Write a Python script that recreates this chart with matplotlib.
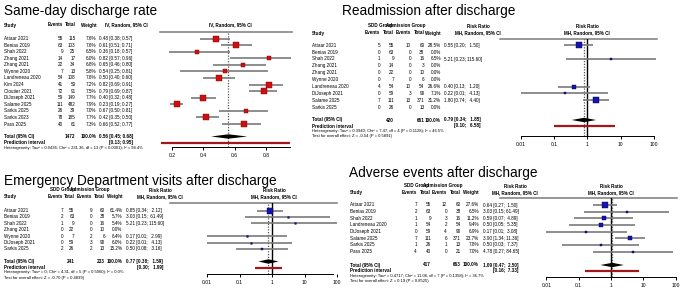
# Four forest plots: same-day discharge vs admission
# Text columns are laid out in pixel units on a blank canvas axes,
# the markers go on small forest axes with real (log) scales.

import numpy as np
import matplotlib.pyplot as plt
from matplotlib.ticker import NullLocator

plt.rcParams['font.family'] = ['Liberation Sans', 'DejaVu Sans']

# %%
# Same-day discharge rate (single proportions, IV random effects)
sd_title = 'Same-day discharge rate'
sd_study = ['Attaar 2021', 'Benias 2019', 'Shah 2022', 'Zhang 2021', 'Zhang 2021',
            'Wynne 2020', 'Landreneau 2020', 'Kim 2024', 'Cloutier 2021',
            'DiJoseph 2021', 'Salame 2025', 'Sarkis 2025', 'Sarkis 2023', 'Pass 2025']
sd_events = [55, 63, 9, 14, 22, 7, 54, 41, 72, 59, 111, 26, 78, 40]
sd_total = [115, 103, 25, 17, 34, 13, 108, 50, 91, 149, 482, 39, 185, 61]
sd_weight = [7.6, 7.6, 6.5, 6.0, 6.8, 5.8, 7.6, 7.2, 7.5, 7.7, 7.9, 7.0, 7.7, 7.3]
sd_est = [0.48, 0.61, 0.36, 0.82, 0.65, 0.54, 0.50, 0.82, 0.79, 0.40, 0.23, 0.67, 0.42, 0.66]
sd_lo = [0.38, 0.51, 0.18, 0.57, 0.46, 0.25, 0.40, 0.69, 0.69, 0.32, 0.19, 0.50, 0.35, 0.52]
sd_hi = [0.57, 0.71, 0.57, 0.96, 0.80, 0.81, 0.60, 0.91, 0.87, 0.48, 0.27, 0.81, 0.50, 0.77]
sd_n_all = 1472
sd_pooled = [0.56, 0.45, 0.68]
sd_pred = [0.13, 0.95]
sd_ticks = [0.2, 0.4, 0.6, 0.8]
sd_het = 'Heterogeneity: Tau² = 0.0436; Chi² = 231.36, df = 13 (P < 0.0001); I² = 94.4%'

# Readmission after discharge (risk ratio, MH random effects)
ra_title = 'Readmission after discharge'
ra_study = ['Attaar 2021', 'Benias 2019', 'Shah 2022', 'Zhang 2021', 'Zhang 2021',
            'Wynne 2020', 'Landreneau 2020', 'DiJoseph 2021', 'Salame 2025', 'Sarkis 2025']
ra_ev_sdd = [5, 0, 1, 0, 0, 0, 4, 0, 7, 0]
ra_n_sdd = [55, 63, 9, 14, 22, 7, 54, 59, 111, 26]
ra_ev_adm = [10, 0, 0, 0, 0, 0, 10, 3, 13, 0]
ra_n_adm = [60, 38, 16, 3, 10, 6, 54, 90, 371, 13]
ra_weight = [28.5, 0.0, 6.5, 0.0, 0.0, 0.0, 26.6, 7.1, 31.2, 0.0]
ra_rr = [0.55, np.nan, 5.21, np.nan, np.nan, np.nan, 0.40, 0.22, 1.80, np.nan]
ra_lo = [0.20, np.nan, 0.23, np.nan, np.nan, np.nan, 0.13, 0.01, 0.74, np.nan]
ra_hi = [1.50, np.nan, 115.60, np.nan, np.nan, np.nan, 1.20, 4.13, 4.40, np.nan]
ra_tot = [420, 661]
ra_pooled = [0.79, 0.34, 1.85]
ra_pred = [0.10, 6.58]
ra_het = 'Heterogeneity: Tau² = 0.3940; Chi² = 7.47, df = 4 (P = 0.1128); I² = 46.5%'
ra_test = 'Test for overall effect: Z = -0.54 (P = 0.5891)'

# Emergency Department visits after discharge
ed_title = 'Emergency Department visits after discharge'
ed_study = ['Attaar 2021', 'Benias 2019', 'Shah 2022', 'Zhang 2021', 'Wynne 2020',
            'DiJoseph 2021', 'Sarkis 2025']
ed_ev_sdd = [7, 2, 1, 0, 0, 0, 2]
ed_n_sdd = [55, 63, 9, 22, 7, 59, 26]
ed_ev_adm = [9, 0, 0, 0, 2, 3, 2]
ed_n_adm = [60, 38, 16, 10, 6, 90, 13]
ed_weight = [61.4, 5.7, 5.4, 0.0, 6.4, 6.0, 15.2]
ed_rr = [0.85, 3.03, 5.21, np.nan, 0.17, 0.22, 0.50]
ed_lo = [0.34, 0.15, 0.23, np.nan, 0.01, 0.01, 0.08]
ed_hi = [2.12, 61.49, 115.60, np.nan, 2.99, 4.13, 3.16]
ed_tot = [241, 233]
ed_pooled = [0.77, 0.38, 1.59]
ed_pred = [0.30, 1.99]
ed_het = 'Heterogeneity: Tau² = 0; Chi² = 4.31, df = 5 (P = 0.5060); I² = 0.0%'
ed_test = 'Test for overall effect: Z = -0.70 (P = 0.4839)'

# Adverse events after discharge
ae_title = 'Adverse events after discharge'
ae_study = ['Attaar 2021', 'Benias 2019', 'Shah 2022', 'Landreneau 2020',
            'DiJoseph 2021', 'Salame 2025', 'Sarkis 2025', 'Pass 2025']
ae_ev_sdd = [7, 2, 1, 1, 0, 7, 1, 4]
ae_n_sdd = [55, 63, 9, 54, 59, 111, 26, 40]
ae_ev_adm = [12, 0, 3, 2, 4, 6, 1, 0]
ae_n_adm = [60, 38, 16, 54, 90, 371, 13, 21]
ae_weight = [27.6, 6.5, 11.2, 9.4, 6.9, 23.7, 7.8, 7.0]
ae_rr = [0.64, 3.03, 0.59, 0.50, 0.17, 3.90, 0.50, 4.78]
ae_lo = [0.27, 0.15, 0.07, 0.05, 0.01, 1.34, 0.03, 0.27]
ae_hi = [1.50, 61.49, 4.89, 5.35, 3.08, 11.36, 7.37, 84.65]
ae_tot = [417, 663]
ae_pooled = [1.09, 0.47, 2.50]
ae_pred = [0.16, 7.33]
ae_het = 'Heterogeneity: Tau² = 0.4717; Chi² = 11.06, df = 7 (P = 0.1358); I² = 36.7%'
ae_test = 'Test for overall effect: Z = 0.19 (P = 0.8525)'

rr_ticks = [0.01, 0.1, 1, 10, 100]
rr_ticklabels = ['0.01', '0.1', '1', '10', '100']

# %%
# Styling
W, H = 683, 295
FS = 3.35
FS_HET = 2.95
FS_TICK = 3.6
FS_TITLE = 9.8
GREY = '#7a7a7a'
PRED = '#a3161b'
RED, RED_EDGE = '#d01010', '#7a0000'
BLUE, BLUE_EDGE = '#1515a8', '#000060'

fig = plt.figure(figsize=(W / 100, H / 100), dpi=100)


def px_axes(x0, x1, y0, y1, z):
    # axes placed in pixel units (y measured from the top)
    return fig.add_axes([x0 / W, 1 - y1 / H, (x1 - x0) / W, (y1 - y0) / H], zorder=z)


canvas = px_axes(0, W, 0, H, 0)
canvas.set_xlim(0, W)
canvas.set_ylim(H, 0)
canvas.axis('off')
renderer = fig.canvas.get_renderer()


def put(cv, x, y, s, ha='left', bold=False, size=FS):
    return cv.text(x, y, s, ha=ha, va='center', fontsize=size,
                   fontweight='bold' if bold else 'normal', zorder=3)


def ci_text(e, l, h, width):
    hs = f'{h:.2f}'
    return f'{e:.2f} [{l:.2f}; ' + ' ' * (width - len(hs)) + hs + ']'


def pred_text(l, h, width):
    hs = f'{h:.2f}'
    return f'[{l:.2f}; ' + ' ' * (width - len(hs)) + hs + ']'


def put_pred(cv, tot_artist, y, s):
    # prediction interval ends flush with the pooled estimate text
    bb = tot_artist.get_window_extent(renderer).transformed(cv.transData.inverted())
    put(cv, bb.x1, y, s, ha='right', bold=True)


def forest_axes(x0, x1, y0, y1, xlim, log, ticks, labels, bounds):
    ax = px_axes(x0, x1, y0, y1, 1)
    ax.set_facecolor('none')
    if log:
        ax.set_xscale('log')
    ax.set_xlim(*xlim)
    ax.set_ylim(y1, y0)
    for s in ['top', 'left', 'right']:
        ax.spines[s].set_visible(False)
    ax.spines['bottom'].set_linewidth(0.7)
    ax.spines['bottom'].set_bounds(*bounds)
    ax.set_yticks([])
    ax.set_xticks(ticks, labels)
    ax.xaxis.set_minor_locator(NullLocator())
    ax.tick_params(axis='x', direction='out', length=2.2, width=0.7, pad=2.5,
                   labelsize=FS_TICK)
    return ax


def draw_marks(ax, rows_y, est, lo, hi, weight, pooled, pred, y_tot, y_pred,
               color, edge, null_line):
    wmax = max(weight)
    for y, e, l, h, w in zip(rows_y, est, lo, hi, weight):
        if np.isnan(e):
            continue
        ax.plot([l, h], [y, y], color=GREY, lw=1.2, solid_capstyle='butt', zorder=2)
        side = 5.3 * np.sqrt(w / wmax) * 0.72
        ax.plot([e], [y], marker='s', ms=side, mfc=color, mec=edge, mew=0.3,
                ls='none', zorder=3)
    e, l, h = pooled
    ax.fill([l, e, h, e], [y_tot, y_tot - 2.2, y_tot, y_tot + 2.2],
            color='black', lw=0, zorder=3)
    ax.plot(pred, [y_pred, y_pred], color=PRED, lw=1.6, solid_capstyle='butt', zorder=3)
    if null_line:
        ax.axvline(1, color='black', lw=1.0, zorder=1)
    ax.axvline(e, color='#555555', lw=0.9, ls=(0, (1, 1.2)), zorder=1)


# %%
# Panel 1: same-day discharge rate
cv = canvas
put(cv, 4, 11, sd_title, size=FS_TITLE)
put(cv, 3.5, 25, 'Study', bold=True)
put(cv, 63, 25, 'Events', ha='right', bold=True)
put(cv, 75.5, 25, 'Total', ha='right', bold=True)
put(cv, 96.5, 25, 'Weight', ha='right', bold=True)
put(cv, 126.5, 25, 'IV, Random, 95% CI', ha='center', bold=True)
put(cv, 230, 25, 'IV, Random, 95% CI', ha='center', bold=True)
cv.plot([160, 292], [32, 32], color=GREY, lw=1.1)
rows1 = [38.5 + 6.58 * i for i in range(len(sd_study))]
for y, s, ev, n, w, e, l, h in zip(rows1, sd_study, sd_events, sd_total, sd_weight,
                                   sd_est, sd_lo, sd_hi):
    put(cv, 3.5, y, s)
    put(cv, 63, y, str(ev), ha='right')
    put(cv, 75.5, y, str(n), ha='right')
    put(cv, 96.5, y, f'{w:.1f}%', ha='right')
    put(cv, 99, y, ci_text(e, l, h, 4))
put(cv, 3.5, 136.5, 'Total (95% CI)', bold=True)
put(cv, 75.5, 136.5, str(sd_n_all), ha='right', bold=True)
put(cv, 96.5, 136.5, '100.0%', ha='right', bold=True)
t = put(cv, 99, 136.5, ci_text(*sd_pooled, 4), bold=True)
put(cv, 3.5, 142.5, 'Prediction interval', bold=True)
put_pred(cv, t, 142.5, pred_text(*sd_pred, 4))
put(cv, 3.5, 147.5, sd_het, size=FS_HET)

k1 = 156.7  # px per unit, 0.2 sits at x = 172
ax1 = forest_axes(155, 300, 32, 146.5,
                  (0.2 + (155 - 172) / k1, 0.2 + (300 - 172) / k1), False,
                  sd_ticks, [f'{v:.1f}' for v in sd_ticks], (0.2, 0.95))
draw_marks(ax1, rows1, sd_est, sd_lo, sd_hi, sd_weight, sd_pooled, sd_pred,
           136.5, 142.5, RED, RED_EDGE, False)


# %%
# Panels 2-4 share one two-arm layout
def rr_panel(cv, L, title, study, ev1, n1, ev2, n2, weight, rr, lo, hi,
             tot, pooled, pred, het, test):
    sx = L['sx']
    put(cv, L['tx'], L['ty'], title, size=FS_TITLE)
    h1, h2 = L['h1'], L['h2']
    put(cv, L['g1'], h1, 'SDD Group', ha='center', bold=True)
    put(cv, L['g2'], h1, 'Admission Group', ha='center', bold=True)
    put(cv, L['rc'], h1, 'Risk Ratio', ha='center', bold=True)
    put(cv, L['fc'], h1, 'Risk Ratio', ha='center', bold=True)
    put(cv, sx, h2, 'Study', bold=True)
    for x, s in zip(L['cols'], ['Events', 'Total', 'Events', 'Total', 'Weight']):
        put(cv, x, h2, s, ha='right', bold=True)
    put(cv, L['rc'], h2, 'MH, Random, 95% CI', ha='center', bold=True)
    put(cv, L['fc'], h2, 'MH, Random, 95% CI', ha='center', bold=True)
    cv.plot(L['lx'], [L['ly'], L['ly']], color=GREY, lw=1.1)

    width = max(len(f'{v:.2f}') for v in hi if not np.isnan(v))
    rows = [L['r0'] + L['dy'] * i for i in range(len(study))]
    c1, c2, c3, c4, c5 = L['cols']
    for y, s, a, b, c, d, w, e, l, h in zip(rows, study, ev1, n1, ev2, n2,
                                            weight, rr, lo, hi):
        put(cv, sx, y, s)
        put(cv, c1, y, str(a), ha='right')
        put(cv, c2, y, str(b), ha='right')
        put(cv, c3, y, str(c), ha='right')
        put(cv, c4, y, str(d), ha='right')
        put(cv, c5, y, f'{w:.1f}%', ha='right')
        if not np.isnan(e):
            put(cv, L['rl'], y, ci_text(e, l, h, width))
    yt, yp = L['yt'], L['yp']
    put(cv, sx, yt, 'Total (95% CI)', bold=True)
    put(cv, c2, yt, str(tot[0]), ha='right', bold=True)
    put(cv, c4, yt, str(tot[1]), ha='right', bold=True)
    put(cv, c5, yt, '100.0%', ha='right', bold=True)
    t = put(cv, L['rl'], yt, ci_text(*pooled, width), bold=True)
    put(cv, sx, yp, 'Prediction interval', bold=True)
    put_pred(cv, t, yp, pred_text(*pred, width))
    put(cv, sx, L['yh'], het, size=FS_HET)
    put(cv, sx, L['ys'], test, size=FS_HET)

    c, k = L['c'], L['k']
    x0, x1 = L['fx']
    xlim = (10 ** ((x0 - c) / k), 10 ** ((x1 - c) / k))
    ax = forest_axes(x0, x1, L['ly'], L['ya'], xlim, True,
                     rr_ticks, rr_ticklabels, (0.01, min(100, xlim[1])))
    draw_marks(ax, rows, rr, lo, hi, weight, pooled, pred, yt, yp,
               BLUE, BLUE_EDGE, True)


ra_layout = dict(tx=342, ty=11, sx=312, h1=26, h2=33, g1=380, g2=406, rc=478, fc=587.3,
                 cols=[380, 394, 411, 424.5, 441], rl=444, lx=[500, 657], ly=39.3,
                 r0=45.2, dy=6.9, yt=120, yp=126, yh=130.8, ys=135.5,
                 c=587.3, k=33.3, fx=(512, 662), ya=135.5)
# the ED panel is cut off on the right by the adverse-events panel
ed_layout = dict(tx=4, ty=181, sx=4, h1=190, h2=196.7, g1=63, g2=90, rc=160, fc=274,
                 cols=[63, 74.5, 92, 105, 122.5], rl=126.5, lx=[170, 337], ly=203,
                 r0=210.5, dy=6.4, yt=261.5, yp=267.5, yh=272.5, ys=277.5,
                 c=274, k=33.3, fx=(195, 337), ya=273.5)
ae_layout = dict(tx=349, ty=173, sx=349.5, h1=186, h2=192.3, g1=417, g2=443, rc=515, fc=611,
                 cols=[417, 431, 447, 461, 479], rl=483, lx=[500, 677], ly=198.3,
                 r0=205, dy=6.65, yt=265, yp=270.7, yh=276, ys=281,
                 c=611, k=32.3, fx=(540, 683), ya=276.7)

rr_panel(canvas, ra_layout, ra_title, ra_study, ra_ev_sdd, ra_n_sdd, ra_ev_adm, ra_n_adm,
         ra_weight, ra_rr, ra_lo, ra_hi, ra_tot, ra_pooled, ra_pred, ra_het, ra_test)
rr_panel(canvas, ed_layout, ed_title, ed_study, ed_ev_sdd, ed_n_sdd, ed_ev_adm, ed_n_adm,
         ed_weight, ed_rr, ed_lo, ed_hi, ed_tot, ed_pooled, ed_pred, ed_het, ed_test)
rr_panel(canvas, ae_layout, ae_title, ae_study, ae_ev_sdd, ae_n_sdd, ae_ev_adm, ae_n_adm,
         ae_weight, ae_rr, ae_lo, ae_hi, ae_tot, ae_pooled, ae_pred, ae_het, ae_test)

fig.savefig('out.png', dpi=100, facecolor='white')
